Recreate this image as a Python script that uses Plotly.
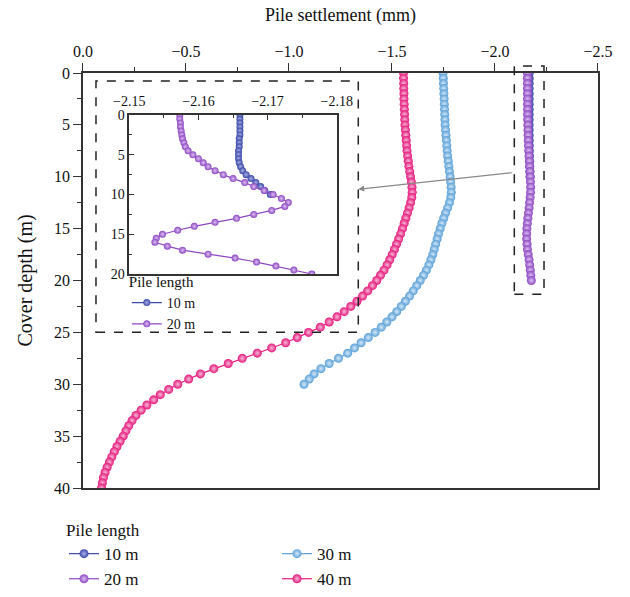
import plotly.graph_objects as go

FONT = "Liberation Serif"

# ---- data (settlement in mm, sampled every 0.5 m of depth) ----
depth_10 = [i * 0.5 for i in range(21)]
depth_20 = [i * 0.5 for i in range(41)]
depth_30 = [i * 0.5 for i in range(61)]
depth_40 = [i * 0.5 for i in range(81)]

settle_10 = [-2.1660, -2.1660, -2.1660, -2.1660, -2.1660, -2.1660, -2.1659, -2.1659,
             -2.1659, -2.1658, -2.1658, -2.1658, -2.1659, -2.1661, -2.1664, -2.1669,
             -2.1676, -2.1683, -2.1690, -2.1696, -2.1704]

settle_20 = [-2.1573, -2.1573, -2.1574, -2.1574, -2.1575, -2.1576, -2.1577, -2.1579,
             -2.1581, -2.1585, -2.1592, -2.1600, -2.1607, -2.1614, -2.1624, -2.1636,
             -2.1650, -2.1667, -2.1680, -2.1695, -2.1708, -2.1720, -2.1730, -2.1725,
             -2.1706, -2.1680, -2.1655, -2.1624, -2.1594, -2.1570, -2.1548, -2.1539,
             -2.1537, -2.1555, -2.1577, -2.1614, -2.1653, -2.1684, -2.1712, -2.1738,
             -2.1764]

settle_30 = [-1.748, -1.749, -1.750, -1.751, -1.752, -1.753, -1.754, -1.755, -1.756, -1.757,
             -1.758, -1.760, -1.762, -1.764, -1.766, -1.768, -1.770, -1.773, -1.776, -1.779,
             -1.782, -1.785, -1.787, -1.788, -1.785, -1.779, -1.770, -1.760, -1.751, -1.742,
             -1.734, -1.726, -1.719, -1.712, -1.705, -1.698, -1.689, -1.679, -1.667, -1.653,
             -1.637, -1.620, -1.603, -1.585, -1.565, -1.545, -1.523, -1.500, -1.475, -1.448,
             -1.418, -1.385, -1.350, -1.318, -1.285, -1.240, -1.195, -1.155, -1.122, -1.098,
             -1.073]

settle_40 = [-1.556, -1.556, -1.557, -1.557, -1.558, -1.558, -1.559, -1.560, -1.561, -1.562,
             -1.563, -1.565, -1.567, -1.569, -1.571, -1.573, -1.576, -1.579, -1.582, -1.586,
             -1.590, -1.594, -1.597, -1.598, -1.596, -1.590, -1.583, -1.575, -1.567, -1.559,
             -1.551, -1.542, -1.532, -1.522, -1.512, -1.501, -1.489, -1.476, -1.461, -1.444,
             -1.426, -1.405, -1.382, -1.357, -1.330, -1.300, -1.268, -1.233, -1.195, -1.152,
             -1.095, -1.040, -0.984, -0.916, -0.846, -0.773, -0.705, -0.635, -0.570, -0.513,
             -0.460, -0.416, -0.375, -0.343, -0.310, -0.282, -0.257, -0.238, -0.222, -0.208,
             -0.195, -0.180, -0.165, -0.152, -0.140, -0.128, -0.117, -0.107, -0.099, -0.094,
             -0.090]

labels = ["10 m", "20 m", "30 m", "40 m"]
colors = ["#3B48A8", "#8E48C2", "#5AA0D8", "#E5177B"]
highlights = ["#aab0e6", "#dcc0f2", "#d4e8f8", "#f7b9d6"]
ranks = [1, 3, 2, 4]

series = [(depth_10, settle_10), (depth_20, settle_20), (depth_30, settle_30), (depth_40, settle_40)]

fig = go.Figure()

for (d, s), lab, c, h, r in zip(series, labels, colors, highlights, ranks):
    fig.add_trace(go.Scatter(
        x=s, y=d, mode="lines+markers", name=lab,
        line=dict(color=c, width=1.2),
        marker=dict(size=9, color=c, line=dict(width=0),
                    gradient=dict(type="radial", color=h)),
        legend="legend", legendrank=r, xaxis="x", yaxis="y",
    ))

# inset traces
for (d, s), lab, c, h in list(zip(series, labels, colors, highlights))[:2]:
    fig.add_trace(go.Scatter(
        x=s, y=d, mode="lines+markers", name=lab,
        line=dict(color=c, width=1.2),
        marker=dict(size=7, color=c, line=dict(width=0),
                    gradient=dict(type="radial", color=h)),
        legend="legend2", xaxis="x2", yaxis="y2",
    ))

axis_common = dict(showline=True, linewidth=1.5, linecolor="#333", mirror=True,
                   showgrid=False, zeroline=False, tickcolor="#333", tickwidth=1.3,
                   automargin=False)

fig.update_layout(
    width=630, height=597, autosize=False,
    margin=dict(l=64, r=32, t=73, b=0),
    paper_bgcolor="white", plot_bgcolor="white",
    font=dict(family=FONT, size=16, color="#111"),
    xaxis=dict(domain=[0.03558, 1], side="top", range=[0, -2.5], dtick=0.5, tickformat=".1f",
               ticks="outside", ticklen=8,
               minor=dict(ticks="outside", ticklen=4, dtick=0.25, tickcolor="#333"),
               title=dict(text="Pile settlement (mm)", font=dict(size=18), standoff=17),
               tickfont=dict(size=16), **axis_common),
    yaxis=dict(domain=[0.2080, 1], range=[40, 0], dtick=5, ticks="outside", ticklen=8,
               minor=dict(ticks="outside", ticklen=4, dtick=2.5, tickcolor="#333"),
               title=dict(text="Cover depth (m)", font=dict(size=20), standoff=16),
               tickfont=dict(size=16), **axis_common),
    xaxis2=dict(domain=[0.1223, 0.5107], anchor="y2", side="top",
                range=[-2.15, -2.18], dtick=0.01, tickformat=".2f",
                ticks="inside", ticklen=5, ticklabelstandoff=2,
                minor=dict(ticks="inside", ticklen=3, dtick=0.005, tickcolor="#333"),
                tickfont=dict(size=14), **axis_common),
    yaxis2=dict(domain=[0.6164, 0.9198], anchor="x2", range=[20, 0], dtick=5,
                ticks="inside", ticklen=5,
                minor=dict(ticks="inside", ticklen=3, dtick=2.5, tickcolor="#333"),
                tickfont=dict(size=14), **axis_common),
    legend=dict(orientation="h", x=0, xanchor="left", y=0, yanchor="bottom",
                title=dict(text="Pile length", side="top", font=dict(size=17)),
                font=dict(size=17), entrywidth=168, entrywidthmode="pixels",
                bgcolor="rgba(0,0,0,0)", traceorder="normal"),
    legend2=dict(orientation="v", x=0.1176, xanchor="left", y=0.6288, yanchor="top",
                 title=dict(text="Pile length", font=dict(size=15)),
                 font=dict(size=14), bgcolor="rgba(0,0,0,0)", tracegroupgap=0),
    shapes=[
        dict(type="rect", xref="paper", yref="paper", x0=0.0599, x1=0.5511,
             y0=0.5052, y1=0.9847, line=dict(color="#222", width=1.5, dash="dash")),
        dict(type="rect", xref="paper", yref="paper", x0=0.8433, x1=0.8989,
             y0=0.5777, y1=1.0134, line=dict(color="#222", width=1.5, dash="dash")),
    ],
    annotations=[
        dict(x=-1.336, y=11.2, xref="x", yref="y", ax=-2.089, ay=9.6,
             axref="x", ayref="y", text="", showarrow=True, arrowhead=2,
             arrowsize=1, arrowwidth=1.2, arrowcolor="#888"),
    ],
)

fig.write_html("out.html")
